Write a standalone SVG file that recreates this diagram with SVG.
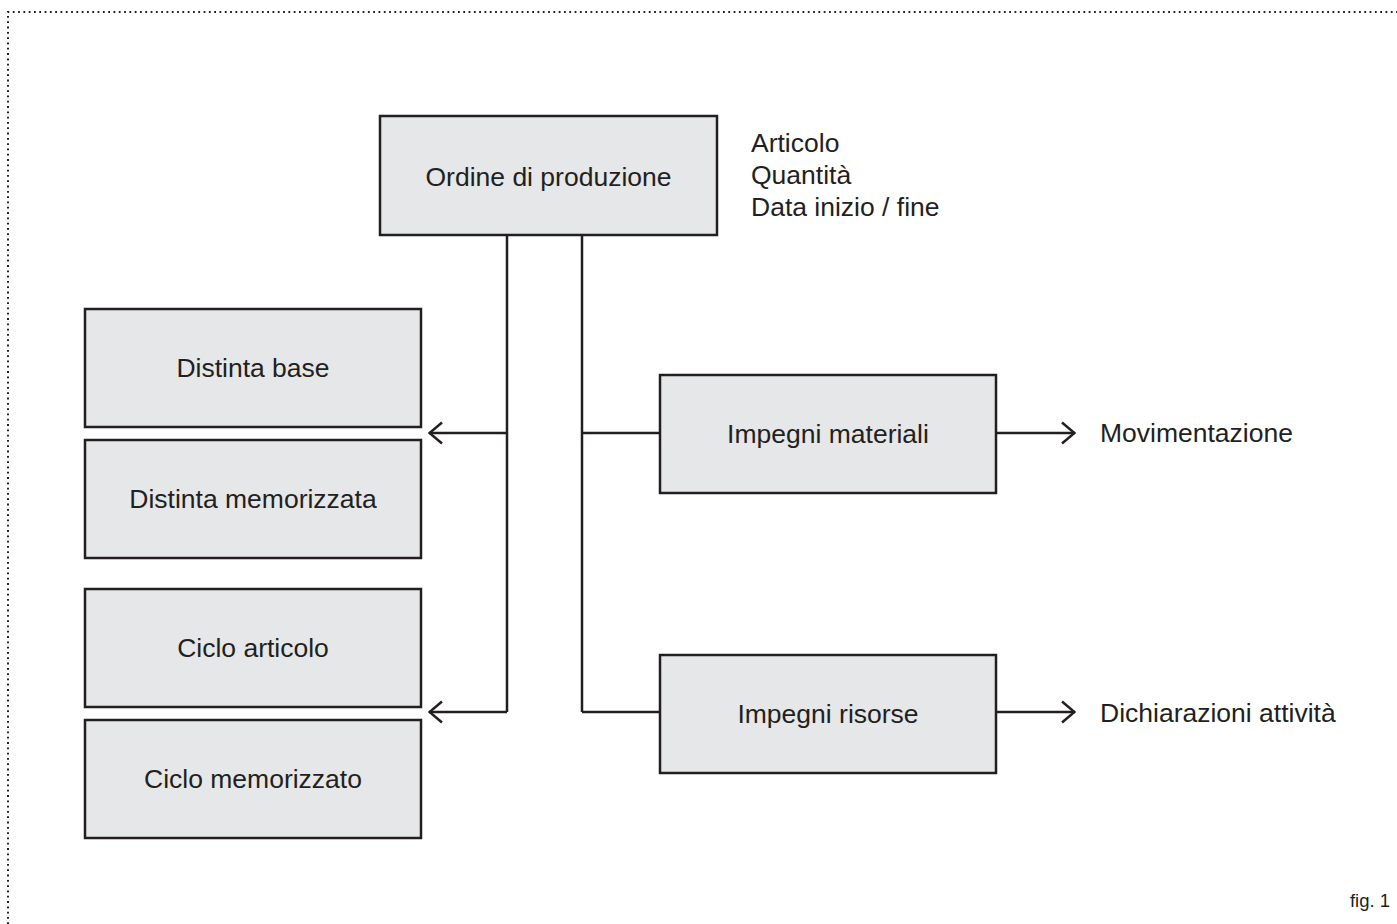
<svg xmlns="http://www.w3.org/2000/svg" width="1397" height="924" viewBox="0 0 1397 924">
<style>
.box{fill:#e6e7e8;stroke:#231f20;stroke-width:2.5}
.ln{fill:none;stroke:#231f20;stroke-width:2.5}
.t{font-family:"Liberation Sans",Arial,sans-serif;font-size:26.5px;fill:#231f20}
.c{text-anchor:middle}
.frame{fill:none;stroke:#231f20;stroke-width:2;stroke-dasharray:1.8 3.5}
</style>
<defs>
<marker id="ah" viewBox="0 0 16 24" refX="15" refY="12" markerWidth="16" markerHeight="24" markerUnits="userSpaceOnUse" orient="auto">
<path d="M2,1.5 L14.5,12 L2,22.5" fill="none" stroke="#231f20" stroke-width="2.5"/>
</marker>
</defs>
<rect width="1397" height="924" fill="#fff"/>
<path class="frame" d="M8,940 L8,12 L1400,12"/>
<g id="connectors">
<path class="ln" d="M507,235 V712"/>
<path class="ln" d="M582,235 V712"/>
<path class="ln" d="M507,433 H429" marker-end="url(#ah)"/>
<path class="ln" d="M507,712 H429" marker-end="url(#ah)"/>
<path class="ln" d="M582,433 H660"/>
<path class="ln" d="M582,712 H660"/>
<path class="ln" d="M996,433 H1075" marker-end="url(#ah)"/>
<path class="ln" d="M996,712 H1075" marker-end="url(#ah)"/>
</g>
<g id="ordine">
<rect class="box" x="380" y="116" width="337" height="119"/>
<text class="t c" x="548.5" y="186">Ordine di produzione</text>
</g>
<g id="attributi">
<text class="t" x="751" y="152">Articolo</text>
<text class="t" x="751" y="184">Quantità</text>
<text class="t" x="751" y="216">Data inizio / fine</text>
</g>
<g id="distinta-base">
<rect class="box" x="85" y="309" width="336" height="118"/>
<text class="t c" x="253" y="377">Distinta base</text>
</g>
<g id="distinta-memorizzata">
<rect class="box" x="85" y="440" width="336" height="118"/>
<text class="t c" x="253" y="508">Distinta memorizzata</text>
</g>
<g id="ciclo-articolo">
<rect class="box" x="85" y="589" width="336" height="118"/>
<text class="t c" x="253" y="657">Ciclo articolo</text>
</g>
<g id="ciclo-memorizzato">
<rect class="box" x="85" y="720" width="336" height="118"/>
<text class="t c" x="253" y="788">Ciclo memorizzato</text>
</g>
<g id="impegni-materiali">
<rect class="box" x="660" y="375" width="336" height="118"/>
<text class="t c" x="828" y="443">Impegni materiali</text>
</g>
<g id="impegni-risorse">
<rect class="box" x="660" y="655" width="336" height="118"/>
<text class="t c" x="828" y="723">Impegni risorse</text>
</g>
<g id="movimentazione">
<text class="t" x="1100" y="442">Movimentazione</text>
</g>
<g id="dichiarazioni">
<text class="t" x="1100" y="722">Dichiarazioni attività</text>
</g>
<text class="t" x="1390" y="907" style="font-size:18.5px;text-anchor:end">fig. 1</text>
</svg>
